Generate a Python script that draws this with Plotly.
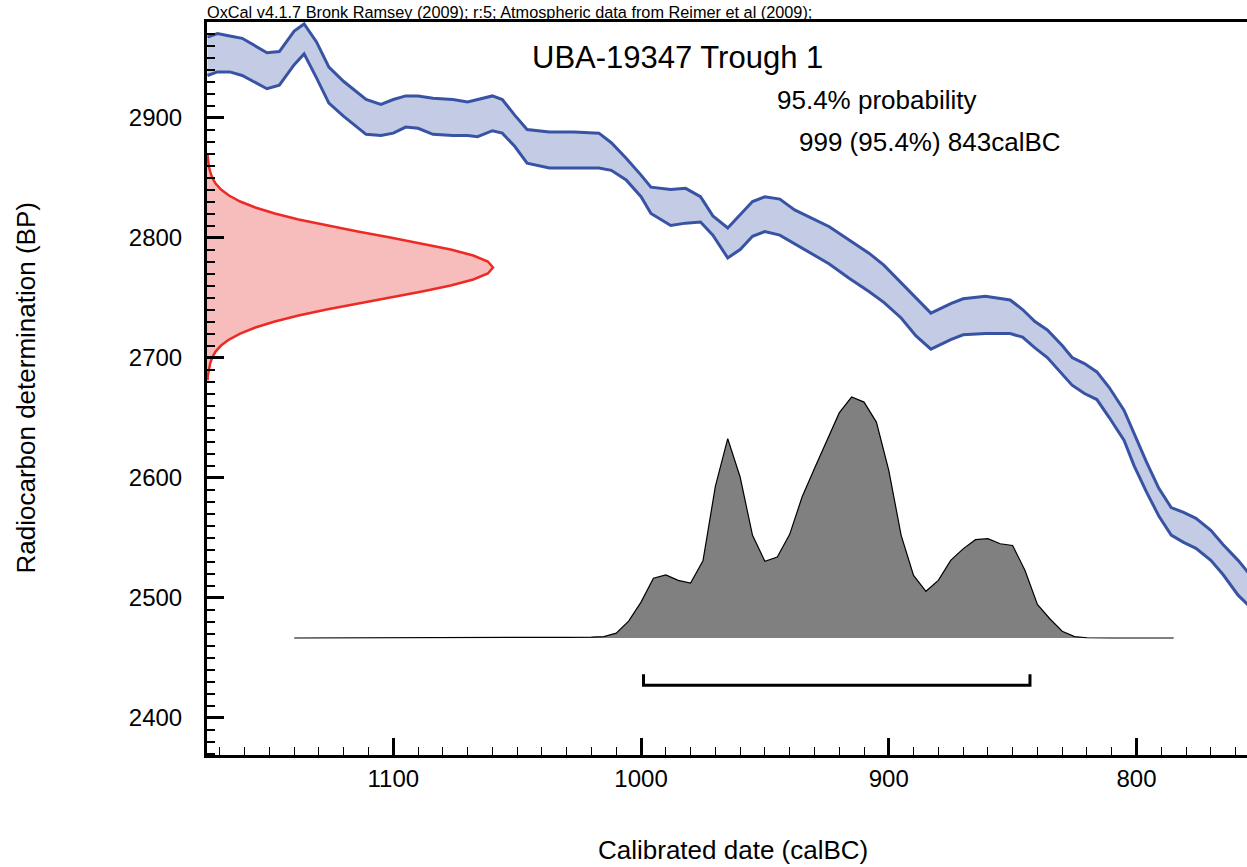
import plotly.graph_objects as go

# ---------------- data ----------------
# Calibration curve (IntCal09 atmospheric), calBC vs radiocarbon age +/- 1 sigma
curve_dates = [1175, 1171, 1166, 1161, 1151, 1146, 1140, 1136, 1131, 1126, 1120, 1111, 1105,
               1100, 1095, 1090, 1084, 1076, 1070, 1066, 1060, 1056, 1051, 1046, 1037, 1027,
               1017, 1012, 1006, 1000, 996, 988, 982, 976, 971, 965, 960, 955, 950, 944, 938,
               932, 924, 916, 908, 902, 895, 889, 883, 875, 870, 861, 851, 846, 841, 836, 830,
               826, 821, 816, 811, 805, 801, 796, 791, 786, 781, 776, 770, 765, 759, 755, 750]
curve_upper = [2967, 2970, 2968, 2966, 2954, 2955, 2972, 2978, 2963, 2942, 2930, 2915, 2911,
               2915, 2918, 2918, 2916, 2915, 2913, 2915, 2918, 2915, 2902, 2890, 2888, 2888,
               2887, 2879, 2866, 2852, 2842, 2840, 2841, 2834, 2818, 2808, 2819, 2830, 2834,
               2832, 2823, 2817, 2809, 2798, 2787, 2777, 2762, 2750, 2737, 2745, 2749, 2751,
               2748, 2740, 2730, 2723, 2710, 2700, 2695, 2688, 2675, 2656, 2637, 2613, 2591,
               2575, 2571, 2566, 2556, 2544, 2531, 2521, 2510]
curve_lower = [2935, 2938, 2938, 2935, 2924, 2927, 2944, 2953, 2933, 2912, 2901, 2886, 2885,
               2887, 2892, 2891, 2886, 2885, 2885, 2884, 2889, 2887, 2876, 2862, 2858, 2858,
               2858, 2856, 2848, 2834, 2820, 2810, 2812, 2813, 2802, 2783, 2790, 2801, 2805,
               2802, 2795, 2788, 2778, 2766, 2755, 2746, 2733, 2718, 2707, 2715, 2719, 2720,
               2720, 2717, 2708, 2700, 2686, 2677, 2670, 2665, 2650, 2631, 2610, 2588, 2568,
               2552, 2546, 2541, 2531, 2519, 2502, 2494, 2484]

# Radiocarbon determination (BP) and its relative probability
c14_bp = [2869, 2865, 2860, 2855, 2850, 2845, 2840, 2835, 2830, 2825, 2820, 2815, 2810, 2805,
          2800, 2795, 2790, 2785, 2780, 2775, 2770, 2765, 2760, 2755, 2750, 2745, 2740, 2735,
          2730, 2725, 2720, 2715, 2710, 2705, 2700, 2695, 2690, 2685, 2681]
c14_density = [0.002, 0.003, 0.006, 0.011, 0.018, 0.03, 0.049, 0.077, 0.116, 0.169, 0.237,
               0.32, 0.418, 0.527, 0.641, 0.752, 0.852, 0.931, 0.982, 1.0, 0.982, 0.931,
               0.852, 0.752, 0.641, 0.527, 0.418, 0.32, 0.237, 0.169, 0.116, 0.077, 0.049,
               0.03, 0.018, 0.011, 0.006, 0.003, 0.002]

# Calibrated date distribution (calBC) and relative probability
cal_dates = [1140, 1060, 1045, 1030, 1020, 1015, 1010, 1005, 1000, 995, 990, 985, 980, 975,
             970, 965, 960, 955, 950, 945, 940, 935, 930, 925, 920, 915, 910, 905, 900, 895,
             890, 885, 880, 875, 870, 865, 860, 855, 850, 845, 840, 835, 830, 825, 820, 810, 785]
cal_prob = [0, 0, 0.002, 0.003, 0.004, 0.006, 0.02, 0.07, 0.149, 0.248, 0.262, 0.239, 0.228,
            0.32, 0.629, 0.827, 0.668, 0.426, 0.318, 0.336, 0.43, 0.585, 0.703, 0.82, 0.934,
            1.0, 0.979, 0.896, 0.696, 0.426, 0.26, 0.194, 0.239, 0.322, 0.37, 0.408, 0.412,
            0.391, 0.384, 0.28, 0.139, 0.08, 0.028, 0.006, 0.001, 0, 0]

# 95.4% range
range_from = 999
range_to = 843

# ---------------- figure ----------------
FONT = "Liberation Sans, Arial, Helvetica, sans-serif"
BAND_LINE = "#3953A4"
BAND_FILL = "#C3CCE4"

X_RANGE = [1175.2, 755.4]
Y_RANGE = [2368.8, 2979.6]
BRACKET_BP = 2427
BRACKET_TICK = 9

fig = go.Figure()

# calibration band
fig.add_trace(go.Scatter(
    x=curve_dates + curve_dates[::-1],
    y=curve_upper + curve_lower[::-1],
    fill="toself", fillcolor=BAND_FILL, mode="none", hoverinfo="skip"))
fig.add_trace(go.Scatter(x=curve_dates, y=curve_upper, mode="lines",
                         line=dict(color=BAND_LINE, width=3)))
fig.add_trace(go.Scatter(x=curve_dates, y=curve_lower, mode="lines",
                         line=dict(color=BAND_LINE, width=3)))

# radiocarbon determination (red) on secondary x axis
fig.add_trace(go.Scatter(x=c14_density, y=c14_bp, xaxis="x2", yaxis="y",
                         mode="lines", fill="tozerox", fillcolor="#F7BDBD",
                         line=dict(color="#EE2A24", width=2.5)))

# calibrated distribution (grey) on secondary y axis
fig.add_trace(go.Scatter(x=cal_dates, y=cal_prob, xaxis="x", yaxis="y2",
                         mode="lines", fill="tozeroy", fillcolor="#808080",
                         line=dict(color="black", width=1.2)))

# 95.4% range bracket
fig.add_trace(go.Scatter(
    x=[range_from, range_from, range_to, range_to],
    y=[BRACKET_BP + BRACKET_TICK, BRACKET_BP, BRACKET_BP, BRACKET_BP + BRACKET_TICK],
    mode="lines", line=dict(color="black", width=3)))

axis_common = dict(showgrid=False, zeroline=False, linecolor="black", linewidth=3,
                   ticks="inside", tickcolor="black",
                   tickfont=dict(family=FONT, size=24, color="black"))

fig.update_layout(
    width=1247, height=867,
    margin=dict(l=207, r=0, t=22, b=112),
    paper_bgcolor="white", plot_bgcolor="white",
    showlegend=False,
    xaxis=dict(range=X_RANGE, dtick=100, tick0=0, ticklen=17, tickwidth=3,
               showline=True, mirror=True, ticklabelstandoff=0,
               minor=dict(dtick=10, tick0=0, ticklen=8, tickwidth=1, ticks="inside",
                          tickcolor="black"),
               **axis_common),
    yaxis=dict(range=Y_RANGE, dtick=100, tick0=0, ticklen=17, tickwidth=3,
               showline=True, mirror=False, ticklabelstandoff=17,
               minor=dict(dtick=10, tick0=0, ticklen=8, tickwidth=2, ticks="inside",
                          tickcolor="black"),
               **axis_common),
    xaxis2=dict(overlaying="x", anchor="y", range=[0, 1040 / 286], visible=False),
    yaxis2=dict(overlaying="y", anchor="x", range=[-0.4854, 2.556], visible=False),
    font=dict(family=FONT, color="black"),
)

annotations = [
    dict(text="OxCal v4.1.7 Bronk Ramsey (2009); r:5; Atmospheric data from Reimer et al (2009);",
         x=-0.002, y=1.0136, xanchor="left", yanchor="middle", font=dict(size=16.3)),
    dict(text="UBA-19347 Trough 1", x=0.3106, y=0.951, xanchor="left", yanchor="middle",
         font=dict(size=31)),
    dict(text="95.4% probability", x=0.546, y=0.8936, xanchor="left", yanchor="middle",
         font=dict(size=26)),
    dict(text="999 (95.4%) 843calBC", x=0.567, y=0.836, xanchor="left", yanchor="middle",
         font=dict(size=26)),
    dict(text="Calibrated date (calBC)", x=0.506, y=-0.1296, xanchor="center", yanchor="middle",
         font=dict(size=26)),
    dict(text="Radiocarbon determination (BP)", x=-0.175, y=0.5, xanchor="center",
         yanchor="middle", textangle=-90, font=dict(size=26)),
]
for a in annotations:
    a.update(xref="paper", yref="paper", showarrow=False)
    a["font"].update(family=FONT, color="black")
fig.update_layout(annotations=annotations)

# remove the default page margin so the 1247x867 figure fills the window exactly
fig.write_html(
    "out.html",
    config={"displayModeBar": False},
    post_script="document.body.style.margin='0';"
                "document.documentElement.style.overflow='hidden';",
)
